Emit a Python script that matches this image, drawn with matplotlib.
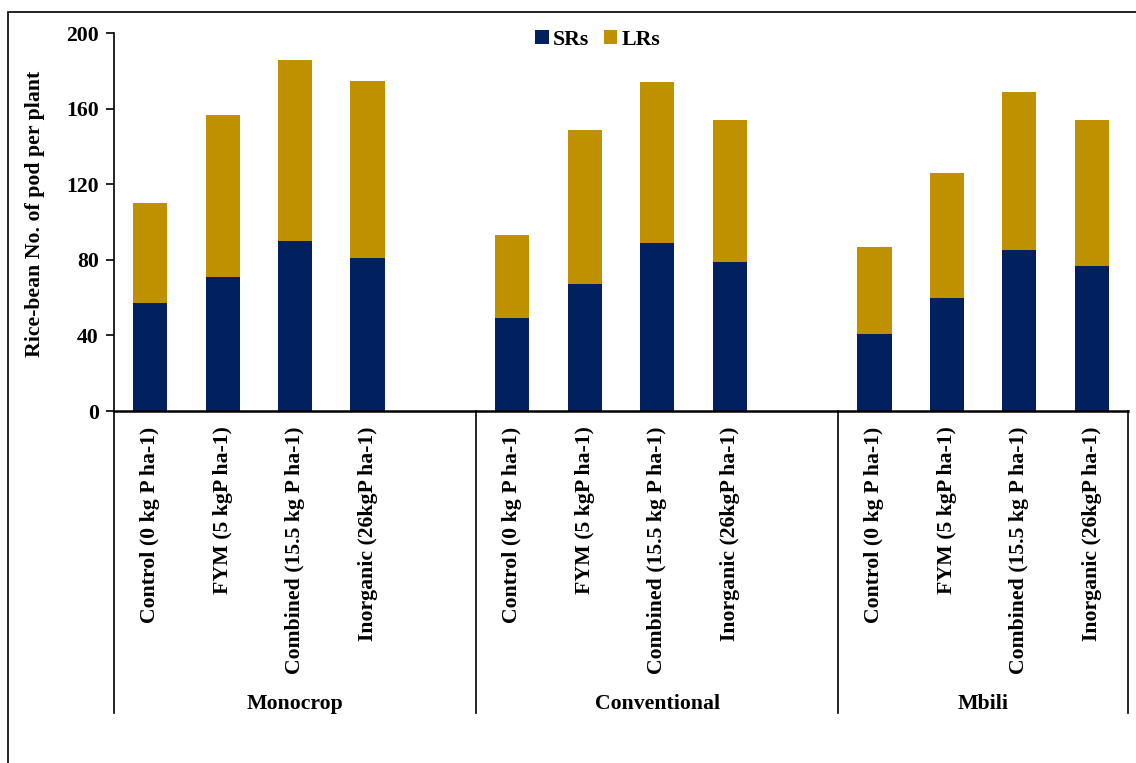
import numpy as np
import matplotlib.pyplot as plt
from matplotlib.patches import Rectangle

plt.rcParams['font.family'] = ['Liberation Serif', 'DejaVu Serif']
plt.rcParams['font.weight'] = 'bold'

# data
systems = ['Monocrop', 'Conventional', 'Mbili']
treatments = ['Control (0 kg P ha-1)', 'FYM (5 kgP ha-1)',
              'Combined (15.5 kg P ha-1)', 'Inorganic (26kgP ha-1)']
srs = [57, 71, 90, 81, 49, 67, 89, 79, 41, 60, 85, 77]
total = [110, 157, 186, 175, 93, 149, 174, 154, 87, 126, 169, 154]
lrs = [t - s for t, s in zip(total, srs)]

navy = '#002060'
gold = '#BF9000'
fs = 15.7

# 5 slots per group (4 bars + empty), last group has only 4
pos = []
for g in range(3):
    for i in range(4):
        pos.append(g * 5 + i)
pos = np.array(pos)

fig = plt.figure(figsize=(11.36, 7.63), dpi=100)
ax = fig.add_axes([114 / 1136, 1 - 411 / 763, 1014 / 1136, 377.7 / 763])

ax.bar(pos, srs, width=0.47, color=navy, label='SRs', zorder=2)
ax.bar(pos, lrs, width=0.47, bottom=srs, color=gold, label='LRs', zorder=2)

ax.set_xlim(-0.5, 13.5)
ax.set_ylim(0, 200)
ax.set_yticks(np.arange(0, 201, 40))
ax.tick_params(axis='y', direction='out', length=6, width=1.2, labelsize=fs, pad=5)
for lab in ax.get_yticklabels():
    lab.set_fontweight('bold')

ax.set_xticks(pos, treatments * 3, rotation=90, fontsize=fs, fontweight='bold')
ax.tick_params(axis='x', length=0, pad=11)

ax.spines['top'].set_visible(False)
ax.spines['right'].set_visible(False)
ax.spines['left'].set_linewidth(1.2)
ax.spines['bottom'].set_linewidth(1.8)

ax.set_ylabel('Rice-bean No. of pod per plant', fontsize=fs, fontweight='bold')
ax.yaxis.set_label_coords(-0.068, 0.523)

# group separators below the axis
tr = ax.get_xaxis_transform()
for xs in [-0.5, 4.5, 9.5, 13.5]:
    ax.plot([xs, xs], [0, -0.8], color='black', lw=1.2, transform=tr, clip_on=False)
for name, xc in zip(systems, [2, 7, 11.5]):
    ax.text(xc, -0.775, name, transform=tr, ha='center', va='center',
            fontsize=fs, fontweight='bold')

ax.legend(loc='center', bbox_to_anchor=(598 / 1136, 1 - 40 / 763),
          bbox_transform=fig.transFigure, ncol=2, frameon=False,
          handlelength=0.6, handleheight=0.6, handletextpad=0.2,
          columnspacing=0.7, prop={'size': fs, 'weight': 'bold'})

# outer chart frame
fig.patches.append(Rectangle((8 / 1136, -0.1), 1.2, 1 - 12 / 763 + 0.1,
                             transform=fig.transFigure, fill=False,
                             edgecolor='black', lw=1.2))

fig.savefig('out.png', dpi=100)
